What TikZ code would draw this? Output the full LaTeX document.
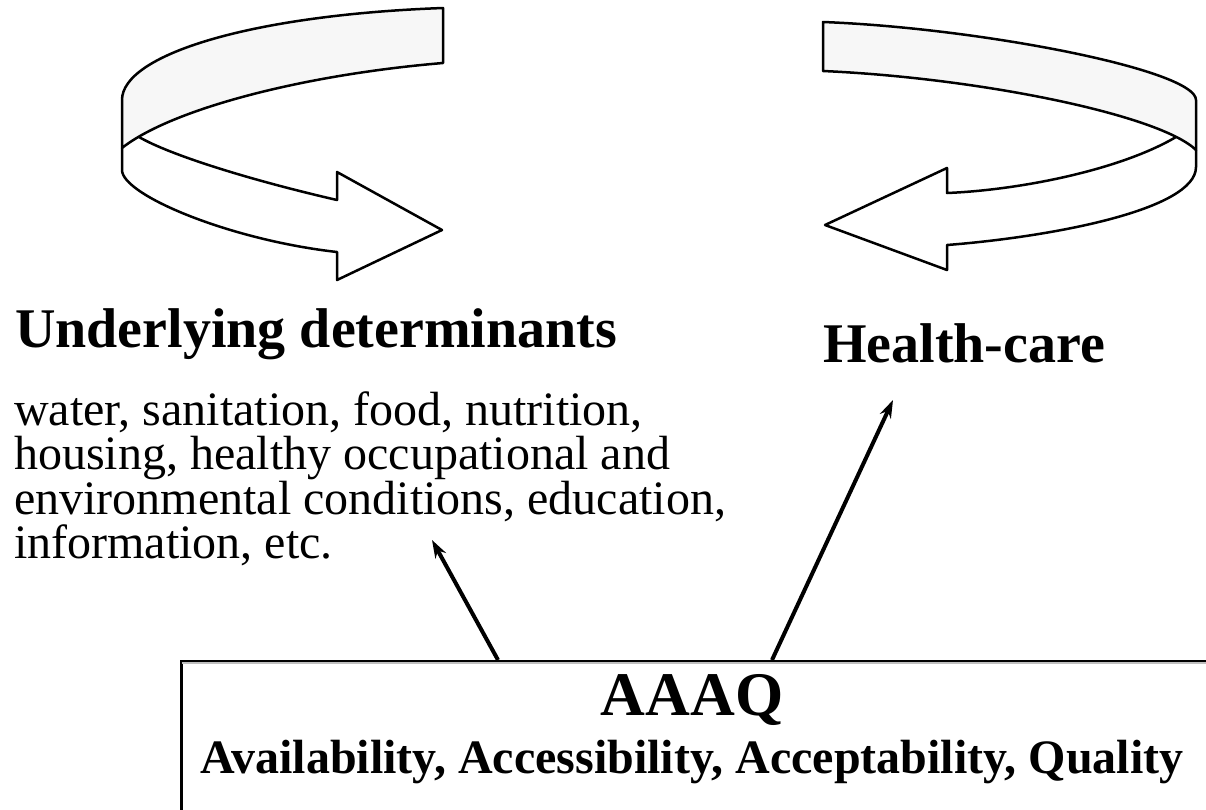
\documentclass[tikz,border=0pt]{standalone}
\usepackage{fontspec}
\setmainfont{Liberation Serif}
\usetikzlibrary{arrows.meta}
\begin{document}
\begin{tikzpicture}[x=1pt,y=-1pt,
  ribbon/.style={draw=black, line width=2.5pt, line join=round},
  band/.style={ribbon, fill=gray!6},
  headtext/.style={inner sep=0pt, anchor=base west, font=\fontsize{56}{60}\selectfont\bfseries},
  bodytext/.style={inner sep=0pt, anchor=base west, font=\fontsize{48}{44}\selectfont},
  boxline/.style={draw=black, line width=3pt, fill=white},
  boxtext/.style={inner sep=0pt, anchor=base},
  link/.style={draw, line width=4pt, -{Stealth[length=18pt,width=12pt]}}
]
\useasboundingbox (0,0) rectangle (1206,809);

% left curved ribbon arrow
\path[band] (443,8) .. controls (250,15) and (122,55) .. (122,100) -- (122,148)
  .. controls (170,110) and (300,75) .. (443,63) -- cycle;
\draw[ribbon] (139,137) .. controls (170,155) and (250,180) .. (337,200) -- (337,172)
  -- (442,230) -- (337,280) -- (337,252) .. controls (230,240) and (122,195) .. (122,170) -- (122,148);

% right curved ribbon arrow
\path[band] (823,22) .. controls (980,28) and (1196,70) .. (1196,100) -- (1196,150)
  .. controls (1160,115) and (980,78) .. (823,71) -- cycle;
\draw[ribbon] (1176,137) .. controls (1120,170) and (1020,190) .. (947,193) -- (947,168)
  -- (825,225) -- (947,270) -- (947,245) .. controls (1050,237) and (1196,210) .. (1196,167) -- (1196,150);

% texts
\node[headtext] (ud) at (15,347) {Underlying determinants};
\node[bodytext] (b1) at (14,425) {water, sanitation, food, nutrition,};
\node[bodytext] (b2) at (14,469) {housing, healthy occupational and};
\node[bodytext] (b3) at (14,514) {environmental conditions, education,};
\node[bodytext] (b4) at (14,558) {information, etc.};
\node[headtext] (hc) at (823,362) {Health-care};

% AAAQ box
\begin{scope}
\clip (0,0) rectangle (1206,809);
\node[boxline, anchor=north west, minimum width=1030pt, minimum height=170pt] (aaaq) at (180,660) {};
\draw[gray!50, line width=2pt] ([xshift=1.5pt, yshift=-2.5pt]aaaq.north west) -- ([yshift=-2.5pt]aaaq.north east);
\end{scope}
\node[boxtext, font=\fontsize{62}{66}\selectfont\bfseries] (t1) at (692,715) {AAAQ};
\node[boxtext, font=\fontsize{48}{52}\selectfont\bfseries] (t2) at (692,773) {Availability, Accessibility, Acceptability, Quality};

% connectors
\coordinate (s1) at ([xshift=318pt]aaaq.north west);
\coordinate (e1) at (432,540);
\coordinate (s2) at ([xshift=592pt]aaaq.north west);
\coordinate (e2) at (893,400);
\draw[link] (s1) -- (e1);
\draw[link] (s2) -- (e2);
\end{tikzpicture}
\end{document}
